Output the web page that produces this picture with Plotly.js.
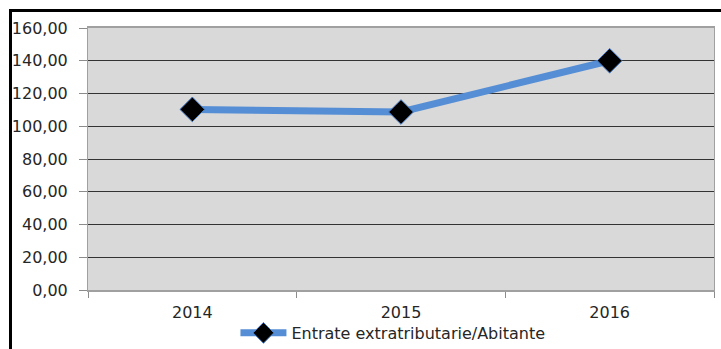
<!DOCTYPE html>
<html>
<head>
<meta charset="utf-8">
<script src="https://cdn.plot.ly/plotly-3.0.1.min.js"></script>
<style>
  html, body { margin: 0; padding: 0; background: #fff; }
  #wrap { position: relative; width: 721px; height: 349px; overflow: hidden; }
  #chart { width: 721px; height: 349px; }
  #frame { position: absolute; left: 9px; top: 9px; width: 800px; height: 400px;
           border-left: 3px solid #000; border-top: 3px solid #000; pointer-events: none; }
</style>
</head>
<body>
<div id="wrap">
  <div id="chart"></div>
  <div id="frame"></div>
</div>
<script>
const years = ['2014', '2015', '2016'];
const values = [110.3, 108.7, 140.0];
const seriesName = 'Entrate extratributarie/Abitante';

const trace = {
  x: years,
  y: values,
  type: 'scatter',
  mode: 'lines+markers',
  name: seriesName,
  line: { color: '#558ED5', width: 7 },
  marker: { symbol: 'diamond', size: 19, color: '#000000', line: { color: '#4A7FC8', width: 1 } }
};

const layout = {
  width: 721,
  height: 349,
  margin: { l: 88, r: 7, t: 28, b: 59, autoexpand: false },
  paper_bgcolor: '#ffffff',
  plot_bgcolor: '#D9D9D9',
  separators: ',.',
  font: { family: 'DejaVu Sans, Verdana, sans-serif', size: 16, color: '#262626' },
  showlegend: true,
  legend: {
    orientation: 'h', x: 0.545, xref: 'container', xanchor: 'center',
    y: 0.046, yref: 'container', yanchor: 'middle',
    itemwidth: 46,
    font: { size: 16, color: '#262626' }, bgcolor: 'rgba(0,0,0,0)'
  },
  xaxis: {
    type: 'category',
    range: [-0.5, 2.5],
    tickson: 'boundaries',
    ticks: 'outside', ticklen: 6, tickcolor: '#8C8C8C', tickwidth: 1,
    ticklabelstandoff: 7,
    showline: true, linecolor: '#A0A0A0', linewidth: 2, mirror: true,
    showgrid: false, zeroline: false,
    tickfont: { size: 16, color: '#262626' }
  },
  yaxis: {
    range: [0, 160], dtick: 20, tick0: 0,
    tickformat: '.2f',
    ticks: 'outside', ticklen: 8, tickcolor: '#8C8C8C', tickwidth: 1,
    ticklabelstandoff: 8,
    showline: true, linecolor: '#A0A0A0', linewidth: 1, mirror: true,
    showgrid: true, gridcolor: '#333333', gridwidth: 1,
    zeroline: false,
    tickfont: { size: 16, color: '#262626' }
  }
};

Plotly.newPlot('chart', [trace], layout, { displayModeBar: false, staticPlot: true });
</script>
</body>
</html>
